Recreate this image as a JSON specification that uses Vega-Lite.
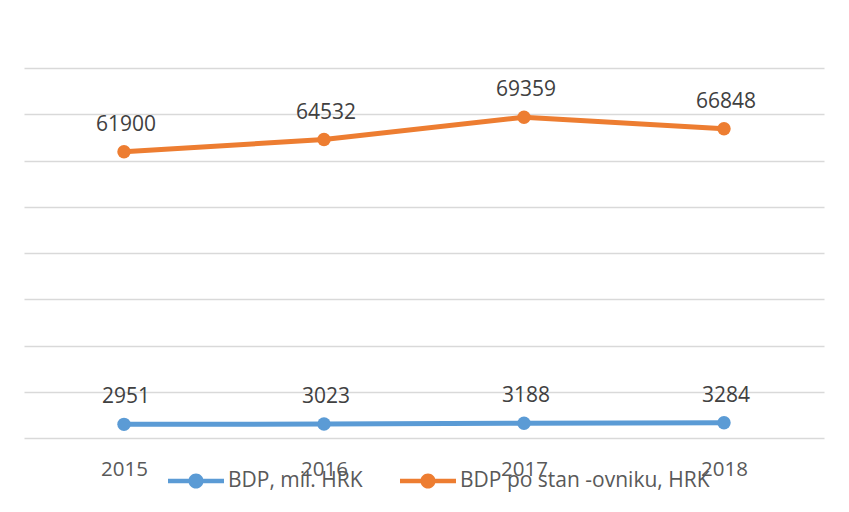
{
  "$schema": "https://vega.github.io/schema/vega-lite/v6.json",
  "width": 800,
  "height": 370,
  "autosize": {"type": "none"},
  "padding": {"left": 24, "top": 68, "right": 25, "bottom": 74},
  "background": "white",
  "config": {"view": {"stroke": null}},
  "data": {
    "values": [
      {"year": "2015", "series": "BDP, mil. HRK", "value": 2951},
      {"year": "2016", "series": "BDP, mil. HRK", "value": 3023},
      {"year": "2017", "series": "BDP, mil. HRK", "value": 3188},
      {"year": "2018", "series": "BDP, mil. HRK", "value": 3284},
      {"year": "2015", "series": "BDP po stan -ovniku, HRK", "value": 61900},
      {"year": "2016", "series": "BDP po stan -ovniku, HRK", "value": 64532},
      {"year": "2017", "series": "BDP po stan -ovniku, HRK", "value": 69359},
      {"year": "2018", "series": "BDP po stan -ovniku, HRK", "value": 66848}
    ]
  },
  "encoding": {
    "x": {
      "field": "year",
      "type": "ordinal",
      "scale": {"type": "point", "padding": 0.5},
      "axis": {
        "title": null,
        "labelAngle": 0,
        "domain": false,
        "ticks": false,
        "grid": false,
        "labelFont": "Open Sans",
        "labelFontSize": 20.5,
        "labelColor": "#595959",
        "labelPadding": 21
      }
    },
    "y": {
      "field": "value",
      "type": "quantitative",
      "scale": {"domain": [0, 80000], "nice": false},
      "axis": {
        "title": null,
        "labels": false,
        "domain": false,
        "ticks": false,
        "values": [0, 10000, 20000, 30000, 40000, 50000, 60000, 70000, 80000],
        "gridColor": "#d9d9d9",
        "gridWidth": 1.3
      }
    },
    "color": {
      "field": "series",
      "type": "nominal",
      "scale": {
        "domain": ["BDP, mil. HRK", "BDP po stan -ovniku, HRK"],
        "range": ["#5b9bd5", "#ed7d31"]
      },
      "legend": {
        "title": null,
        "orient": "none",
        "direction": "horizontal",
        "legendX": 144,
        "legendY": 385,
        "padding": 0,
        "symbolType": "M-1,-0.08H1V0.08H-1Z M-0.27,0A0.27,0.27 0 1,1 0.27,0A0.27,0.27 0 1,1 -0.27,0Z",
        "symbolSize": 3136,
        "symbolStrokeWidth": 0,
        "labelFont": "Open Sans",
        "labelFontSize": 21,
        "labelColor": "#595959",
        "labelOffset": 4,
        "labelLimit": 0,
        "columnPadding": 37,
        "encode": {
          "symbols": {
            "update": {
              "fill": {"scale": "color", "field": "value"},
              "stroke": {"value": "transparent"},
              "opacity": {"value": 1},
              "shape": {"value": "M-1,-0.08H1V0.08H-1Z M-0.27,0A0.27,0.27 0 1,1 0.27,0A0.27,0.27 0 1,1 -0.27,0Z"}
            }
          }
        }
      }
    }
  },
  "layer": [
    {"mark": {"type": "line", "strokeWidth": 5}},
    {"mark": {"type": "point", "filled": true, "size": 180, "opacity": 1}},
    {
      "mark": {"type": "text", "dy": -27, "dx": 2, "font": "Open Sans", "fontSize": 21},
      "encoding": {
        "text": {"field": "value", "type": "quantitative", "format": "d"},
        "color": {"value": "#404040"}
      }
    }
  ]
}
